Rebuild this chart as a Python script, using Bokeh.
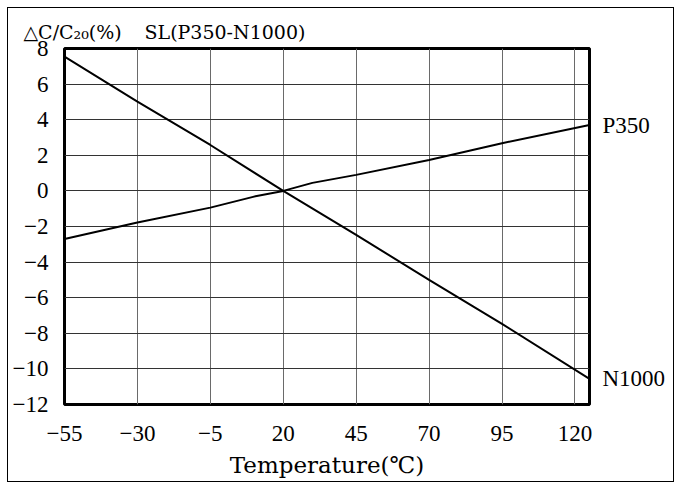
from bokeh.plotting import figure
from bokeh.models import FixedTicker, Range1d, LinearAxis
from bokeh.embed import file_html
from bokeh.resources import INLINE

# ---- data ----
temps_p350 = [-55, -30, -5, 10, 20, 30, 45, 70, 95, 125]
p350 = [-2.70, -1.78, -0.94, -0.32, 0.0, 0.45, 0.90, 1.74, 2.68, 3.70]
temps_n1000 = [-55, -30, -5, 20, 45, 70, 95, 125]
n1000 = [7.55, 5.02, 2.58, 0.0, -2.47, -5.00, -7.47, -10.56]

x_ticks = [-55, -30, -5, 20, 45, 70, 95, 120]
y_ticks = [-12, -10, -8, -6, -4, -2, 0, 2, 4, 6, 8]
x_min, x_max = -55, 125
y_min, y_max = -12, 8

title_text = "\u25b3C/C\u2082\u2080(%)\u2003\u2009SL(P350-N1000)"
x_label = "Temperature(\u2103)"
series_names = ["P350", "N1000"]


def fmt(v):
    return ("\u2212" + str(-v)) if v < 0 else str(v)


tick_font = "Liberation Serif"
title_font = "DejaVu Serif"

p = figure(width=667, height=475, output_backend="svg", toolbar_location=None,
           x_range=Range1d(x_min, x_max), y_range=Range1d(y_min, y_max),
           min_border_left=56, min_border_top=40, min_border_right=86,
           min_border_bottom=79, title=title_text)
p.styles = {"border": "1px solid black", "margin-left": "7px", "margin-top": "7px"}
p.background_fill_color = "white"
p.border_fill_color = "white"
p.outline_line_color = "black"
p.outline_line_width = 3

p.title.text_font = title_font
p.title.text_font_size = "19px"
p.title.text_font_style = "normal"
p.title.text_color = "black"
p.title.align = "left"
p.title.offset = -41
p.title.standoff = 11

right_axis = LinearAxis()
p.add_layout(right_axis, "right")

for ax, ticks in ((p.xaxis[0], x_ticks), (p.yaxis[0], y_ticks)):
    ax.ticker = FixedTicker(ticks=ticks)
    ax.major_label_overrides = {t: fmt(t) for t in ticks}

right_axis.ticker = FixedTicker(ticks=[p350[-1], n1000[-1]])
right_axis.major_label_overrides = {p350[-1]: series_names[0], n1000[-1]: series_names[1]}
right_axis.major_label_standoff = 13

for ax in (p.xaxis[0], p.yaxis[0], right_axis):
    ax.axis_line_color = None
    ax.major_tick_line_color = None
    ax.minor_tick_line_color = None
    ax.major_tick_in = 0
    ax.major_tick_out = 0
    ax.minor_tick_in = 0
    ax.minor_tick_out = 0
    ax.major_label_text_font = tick_font
    ax.major_label_text_font_size = "23px"
    ax.major_label_text_color = "black"

p.yaxis[0].axis_label_standoff = 0
right_axis.axis_label_standoff = 0
p.xaxis[0].major_label_standoff = 21
p.yaxis[0].major_label_standoff = 16

p.xaxis[0].axis_label = x_label
p.xaxis[0].axis_label_text_font = title_font
p.xaxis[0].axis_label_text_font_size = "23px"
p.xaxis[0].axis_label_text_font_style = "normal"
p.xaxis[0].axis_label_text_color = "black"
p.xaxis[0].axis_label_standoff = 8

p.xgrid.grid_line_color = "#6a6a6a"
p.ygrid.grid_line_color = "#333333"
p.xgrid.grid_line_width = 1
p.ygrid.grid_line_width = 1

p.line(temps_p350, p350, line_color="black", line_width=2)
p.line(temps_n1000, n1000, line_color="black", line_width=2)

open("out.html", "w").write(file_html(p, INLINE))
